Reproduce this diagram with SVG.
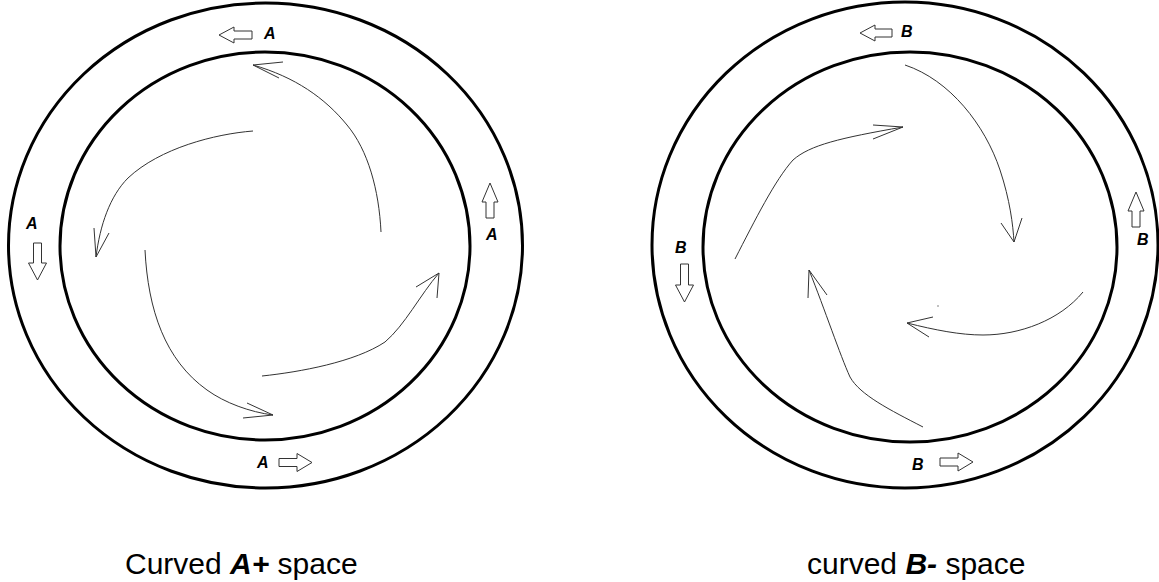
<svg xmlns="http://www.w3.org/2000/svg" width="1159" height="582" viewBox="0 0 1159 582">
<style>
.ring{fill:none;stroke:#000;stroke-width:3}
.blk{fill:#fff;stroke:#333;stroke-width:1}
.lbl{font-family:"Liberation Sans",Arial,sans-serif;font-size:16px;font-weight:bold;font-style:italic;fill:#000}
.cap{font-family:"Liberation Sans",Arial,sans-serif;font-size:30px;fill:#000}
.cap .em{font-weight:bold;font-style:italic}
.flow{fill:none;stroke:#333;stroke-width:1}
</style>
<rect width="1159" height="582" fill="#fff"/>
<g id="left-space">
  <ellipse class="ring" cx="265.5" cy="245.5" rx="257" ry="242.5"/>
  <ellipse class="ring" cx="265" cy="246" rx="205" ry="194"/>
  <g id="left-top-marker">
    <polygon class="blk" points="252,31 234,31 234,27 219,35 234,43 234,39 252,39"/>
    <text class="lbl" x="264" y="39">A</text>
  </g>
  <g id="left-left-marker">
    <text class="lbl" x="26" y="229">A</text>
    <polygon class="blk" points="33.5,243 41.5,243 41.5,263 46.5,263 37.5,280 28.5,263 33.5,263"/>
  </g>
  <g id="left-right-marker">
    <polygon class="blk" points="486,218 494,218 494,202 498,202 490,183 482,202 486,202"/>
    <text class="lbl" x="486" y="240">A</text>
  </g>
  <g id="left-bottom-marker">
    <text class="lbl" x="257" y="468">A</text>
    <polygon class="blk" points="279,458.5 297,458.5 297,453.5 312,462.5 297,471.5 297,466.5 279,466.5"/>
  </g>
  <text class="cap" x="125" y="574">Curved <tspan class="em">A+</tspan> space</text>
</g>
<g id="right-space">
  <ellipse class="ring" cx="905" cy="245" rx="253" ry="243"/>
  <ellipse class="ring" cx="910" cy="247" rx="207" ry="195"/>
  <g id="right-top-marker">
    <polygon class="blk" points="892,29 875,29 875,25 860,33 875,41 875,37 892,37"/>
    <text class="lbl" x="901" y="37">B</text>
  </g>
  <g id="right-left-marker">
    <text class="lbl" x="675" y="253">B</text>
    <polygon class="blk" points="680.5,264 688.5,264 688.5,285 693.5,285 684.5,302 675.5,285 680.5,285"/>
  </g>
  <g id="right-right-marker">
    <polygon class="blk" points="1132,227 1140,227 1140,211 1144,211 1136,192 1128,211 1132,211"/>
    <text class="lbl" x="1137" y="245">B</text>
  </g>
  <g id="right-bottom-marker">
    <text class="lbl" x="912" y="470">B</text>
    <polygon class="blk" points="940,458 958,458 958,453 973,462 958,471 958,466 940,466"/>
  </g>
  <text class="cap" x="807" y="574">curved <tspan class="em">B-</tspan> space</text>
</g>
<g id="connectors">
  <path class="flow" d="M381,232 C379,190 368,150 347,125 C325,98 295,77 253,65"/>
  <polyline class="flow" points="283,62 253,65 279,78"/>
  <path class="flow" d="M253,131 C215,134 160,148 128,178 C110,196 100,225 96,257"/>
  <polyline class="flow" points="94,228 96,257 109,233"/>
  <path class="flow" d="M145,250 C148,310 165,360 207,390 C225,403 250,412 273,415"/>
  <polyline class="flow" points="247,403 273,415 243,418"/>
  <path class="flow" d="M262,376 C300,372 355,362 385,342 C405,325 420,295 439,273"/>
  <polyline class="flow" points="416,287 439,273 437,298"/>
  <path class="flow" d="M905,65 C950,80 985,125 1000,170 C1010,200 1013,225 1014,242"/>
  <polyline class="flow" points="1001,223 1014,242 1022,218"/>
  <path class="flow" d="M1083,292 C1060,320 1020,335 983,335 C960,335 935,330 907,323"/>
  <polyline class="flow" points="933,317 907,323 929,337"/>
  <path class="flow" d="M923,427 C890,410 860,395 850,377 C840,355 825,310 809,270"/>
  <polyline class="flow" points="808,298 809,270 827,295"/>
  <path class="flow" d="M735,259 C755,220 775,180 793,160 C810,145 840,138 903,127"/>
  <polyline class="flow" points="873,125 903,127 873,139"/>
  <circle cx="938" cy="306" r="0.7" fill="#555"/>
</g>
</svg>
